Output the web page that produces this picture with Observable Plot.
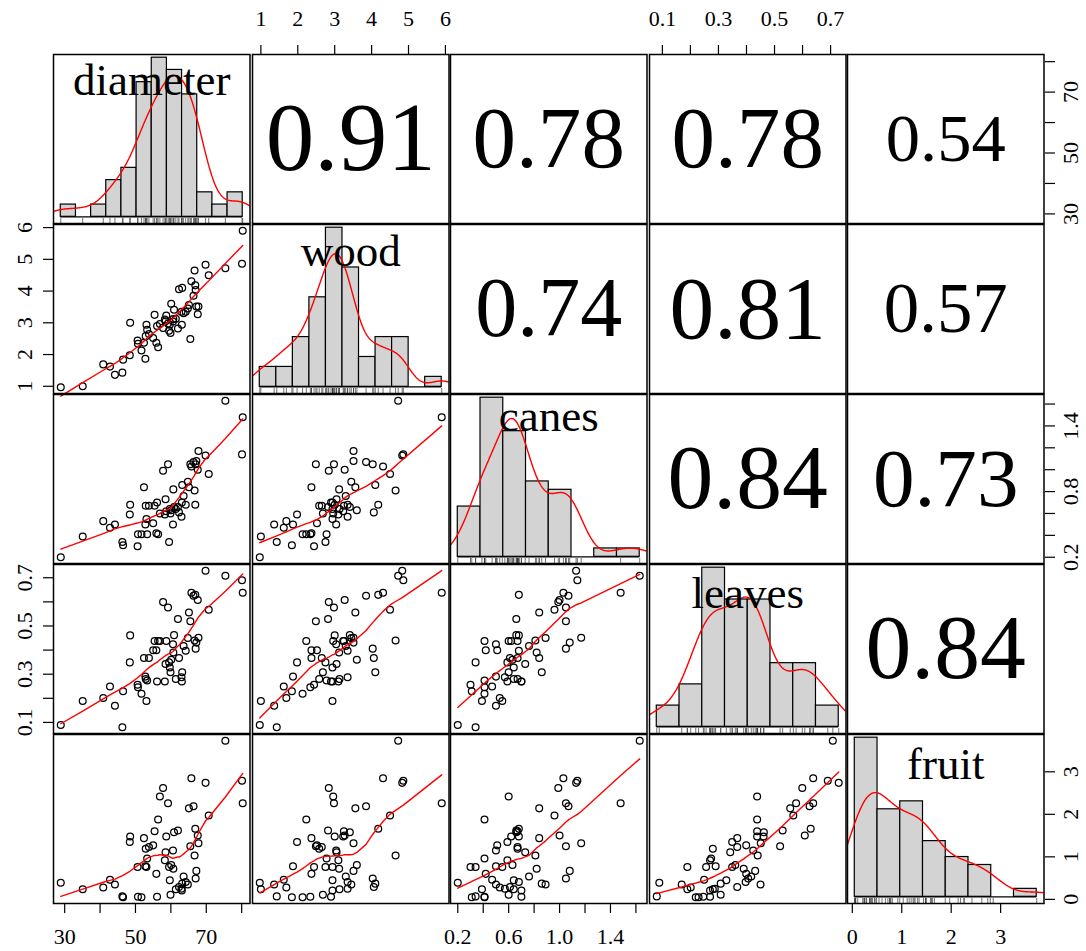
<!DOCTYPE html>
<html><head><meta charset="utf-8">
<script src="https://cdn.jsdelivr.net/npm/d3@7"></script>
<script src="https://cdn.jsdelivr.net/npm/@observablehq/plot@0.6"></script>
<style>
body{margin:0;background:#fff;}
#chart{position:relative;width:1086px;height:951px;background:#fff;overflow:hidden;}
</style></head><body><div id="chart"></div>
<script>
const variables = ["diameter", "wood", "canes", "leaves", "fruit"];
const diameter = [28.9,35.1,40.9,42.8,44.2,46.3,46.5,48.4,48.5,50.6,50.7,51.7,52.4,52.8,52.9,53.1,53.3,53.8,55.0,55.4,55.9,56.1,56.4,56.9,57.8,58.3,58.5,58.7,59.2,59.5,59.7,59.9,60.1,60.6,60.7,60.9,61.4,62.0,62.3,63.0,63.1,63.2,63.6,64.2,64.8,65.1,65.5,65.8,66.4,66.7,66.9,67.0,67.2,67.6,67.8,69.8,70.7,75.4,80.1,80.3];
const wood = [0.97,1.00,1.69,1.62,1.36,1.43,1.84,1.98,3.00,2.44,2.34,2.13,2.37,1.87,2.58,2.94,2.78,2.65,2.52,3.25,2.37,2.90,2.23,2.96,2.84,3.10,3.05,3.23,2.98,2.75,2.94,2.68,3.60,3.04,3.12,3.41,3.13,2.82,4.06,3.35,2.94,4.10,3.30,3.35,3.45,3.56,2.49,4.31,3.85,4.65,4.18,4.03,3.51,3.27,3.51,4.83,4.50,4.72,4.86,5.90];
const canes = [0.20,0.39,0.53,0.47,0.50,0.34,0.31,0.59,0.68,0.30,0.41,0.41,0.84,0.50,0.67,0.55,0.41,0.67,0.51,0.67,0.42,0.70,0.41,0.60,0.99,0.59,0.73,0.62,1.05,0.34,0.64,0.60,0.63,0.50,0.82,0.66,0.64,0.66,0.61,0.57,0.70,0.86,0.76,0.68,0.89,0.84,1.05,1.03,1.07,0.81,0.68,1.05,1.08,1.00,1.17,1.13,0.96,1.63,1.14,1.48];
const leaves = [0.089,0.189,0.201,0.249,0.169,0.080,0.229,0.349,0.461,0.256,0.246,0.219,0.367,0.290,0.280,0.189,0.274,0.367,0.399,0.438,0.399,0.270,0.438,0.438,0.599,0.270,0.342,0.438,0.577,0.349,0.328,0.308,0.360,0.424,0.390,0.462,0.280,0.529,0.367,0.287,0.270,0.308,0.417,0.397,0.450,0.556,0.520,0.638,0.625,0.440,0.629,0.406,0.431,0.608,0.451,0.729,0.567,0.708,0.690,0.638];
const fruit = [0.39,0.24,0.28,0.46,0.35,0.07,0.05,1.35,1.48,0.76,0.06,0.05,1.44,0.78,1.19,0.76,0.96,1.23,1.27,1.60,0.60,0.06,1.88,2.42,2.62,0.92,1.11,1.48,2.26,0.76,0.45,0.11,0.81,1.15,0.72,1.58,0.24,1.62,0.29,0.25,0.21,0.37,0.54,0.41,0.35,2.14,1.25,2.85,2.19,1.03,1.66,0.49,0.67,1.50,1.32,2.74,1.97,3.73,2.79,2.26];

// correlations shown in the upper panels (row-major upper triangle)
const correlations = [0.91, 0.78, 0.78, 0.54, 0.74, 0.81, 0.57, 0.84, 0.73, 0.84];

// histogram counts (equal-width bins from min to max)
const diameterHist = [1,0,1,3,4,11,13,12,10,2,1,2];
const woodHist = [2,2,5,9,16,12,3,5,5,0,1];
const canesHist = [6,19,15,9,8,0,1,1];
const leavesHist = [2,4,15,12,12,6,6,2];
const fruitHist = [20,11,12,7,5,4,0,1];

// axis ticks, labels on horizontal axes, labels on vertical axes
const diameterTicks = [30,40,50,60,70,80], diameterLabels = [30,50,70], diameterSideLabels = [30,50,70];
const woodTicks = [1,2,3,4,5,6], woodLabels = [1,2,3,4,5,6], woodSideLabels = [1,2,3,4,5,6];
const canesTicks = [0.2,0.4,0.6,0.8,1.0,1.2,1.4,1.6], canesLabels = [0.2,0.6,1.0,1.4], canesSideLabels = [0.2,0.8,1.4];
const leavesTicks = [0.1,0.2,0.3,0.4,0.5,0.6,0.7], leavesLabels = [0.1,0.3,0.5,0.7], leavesSideLabels = [0.1,0.3,0.5,0.7];
const fruitTicks = [0,1,2,3], fruitLabels = [0,1,2,3], fruitSideLabels = [0,1,2,3];

const series = {diameter, wood, canes, leaves, fruit};
const hists = {diameter: diameterHist, wood: woodHist, canes: canesHist, leaves: leavesHist, fruit: fruitHist};
const ticks = {
  diameter: [diameterTicks, diameterLabels, diameterSideLabels, d3.format("d")],
  wood: [woodTicks, woodLabels, woodSideLabels, d3.format("d")],
  canes: [canesTicks, canesLabels, canesSideLabels, d3.format(".1f")],
  leaves: [leavesTicks, leavesLabels, leavesSideLabels, d3.format(".1f")],
  fruit: [fruitTicks, fruitLabels, fruitSideLabels, d3.format("d")]};
const rows = diameter.map((_, i) => Object.fromEntries(variables.map(v => [v, series[v][i]])));

// ---------- layout ----------
const FONT = "'Liberation Serif', 'Times New Roman', Times, serif";
const colLeft = [53, 251.5, 450, 648.5, 847], W = 196.5;
const rowTop = [54, 224, 394, 564, 734], H = 169;
const chart = document.getElementById("chart");
function put(node, left, top) {
  node.style.position = "absolute"; node.style.left = left + "px"; node.style.top = top + "px";
  chart.appendChild(node);
}
const domains = {};
for (const v of variables) { const [a, b] = d3.extent(series[v]); const p = 0.04 * (b - a); domains[v] = [a - p, b + p]; }

// ---------- statistics derived from the data ----------
function kde(values) {
  const n = values.length, sd = d3.deviation(values);
  const iqr = d3.quantile(values, 0.75) - d3.quantile(values, 0.25);
  const h = 0.9 * Math.min(sd, iqr / 1.34) * Math.pow(n, -0.2);
  const [a, b] = d3.extent(values), lo = a - 3 * h, hi = b + 3 * h;
  return d3.range(512).map(i => {
    const x = lo + (hi - lo) * i / 511;
    return {x, y: d3.sum(values, v => Math.exp(-0.5 * ((x - v) / h) ** 2)) / (n * h * Math.sqrt(2 * Math.PI))};
  });
}
function lowess(xIn, yIn, f = 2 / 3, iter = 3) {
  const order = d3.range(xIn.length).sort((a, b) => xIn[a] - xIn[b]);
  const x = order.map(i => xIn[i]), y = order.map(i => yIn[i]);
  const n = x.length, range = x[n - 1] - x[0], delta = 0.01 * range;
  const ns = Math.max(2, Math.min(n, Math.floor(f * n + 1e-7)));
  const ys = new Array(n).fill(0), rw = new Array(n).fill(1), res = new Array(n).fill(0), w = new Array(n).fill(0);
  function lowest(xs, nleft, nright, userw) {
    const h = Math.max(xs - x[nleft], x[nright] - xs), h9 = 0.999 * h, h1 = 0.001 * h;
    let a = 0, j = nleft;
    while (j < n) {
      w[j] = 0;
      const r = Math.abs(x[j] - xs);
      if (r <= h9) {
        w[j] = r <= h1 ? 1 : Math.pow(1 - Math.pow(r / h, 3), 3);
        if (userw) w[j] *= rw[j];
        a += w[j];
      } else if (x[j] > xs) break;
      j++;
    }
    const nrt = j - 1;
    if (a <= 0) return null;
    for (j = nleft; j <= nrt; j++) w[j] /= a;
    if (h > 0) {
      a = 0;
      for (j = nleft; j <= nrt; j++) a += w[j] * x[j];
      let b = xs - a, c = 0;
      for (j = nleft; j <= nrt; j++) c += w[j] * (x[j] - a) * (x[j] - a);
      if (Math.sqrt(c) > 0.001 * range) { b /= c; for (j = nleft; j <= nrt; j++) w[j] *= (b * (x[j] - a) + 1); }
    }
    let yv = 0;
    for (j = nleft; j <= nrt; j++) yv += w[j] * y[j];
    return yv;
  }
  for (let it = 1; it <= iter + 1; it++) {
    let nleft = 0, nright = ns - 1, last = -1, i = 0;
    for (;;) {
      if (nright < n - 1) {
        const d1 = x[i] - x[nleft], d2 = x[nright + 1] - x[i];
        if (d1 > d2) { nleft++; nright++; continue; }
      }
      const v = lowest(x[i], nleft, nright, it > 1);
      ys[i] = v === null ? y[i] : v;
      if (last < i - 1) {
        const denom = x[i] - x[last];
        for (let j = last + 1; j < i; j++) { const al = (x[j] - x[last]) / denom; ys[j] = al * ys[i] + (1 - al) * ys[last]; }
      }
      last = i;
      const cut = x[last] + delta;
      for (i = last + 1; i < n; i++) {
        if (x[i] > cut) break;
        if (x[i] === x[last]) { ys[i] = ys[last]; last = i; }
      }
      i = Math.max(last + 1, i - 1);
      if (last >= n - 1) break;
    }
    for (let k = 0; k < n; k++) res[k] = y[k] - ys[k];
    if (it > iter) break;
    const absr = res.map(Math.abs), sc = d3.sum(absr) / n;
    const s = absr.slice().sort((a, b) => a - b), m = Math.floor(n / 2);
    const cmad = n % 2 === 0 ? 3 * (s[m - 1] + s[m]) : 6 * s[m];
    if (cmad < 1e-7 * sc) break;
    const c9 = 0.999 * cmad, c1 = 0.001 * cmad;
    for (let k = 0; k < n; k++) { const r = absr[k]; rw[k] = r <= c1 ? 1 : r <= c9 ? (1 - (r / cmad) ** 2) ** 2 : 0; }
  }
  return x.map((xv, k) => ({x: xv, y: ys[k]}));
}

const base = {width: W, height: H, margin: 0, style: {overflow: "visible", background: "transparent", fontFamily: FONT}};
const frame = Plot.frame({stroke: "black", strokeWidth: 1.5});

// ---------- panels ----------
const labelBaseline = {diameter: 40, wood: 41.5, canes: 36, leaves: 43, fruit: 44.5};
let ci = 0;
variables.forEach((rv, i) => {
  variables.forEach((cv, j) => {
    let svg;
    if (i === j) {
      const vals = series[cv], counts = hists[cv], k = counts.length, N = d3.sum(counts);
      const [mn, mx] = d3.extent(vals), bw = (mx - mn) / k;
      const bins = counts.map((c, t) => ({x1: mn + t * bw, x2: mn + (t + 1) * bw, y: c / (N * bw)}));
      const dens = kde(vals);
      const M = Math.max(d3.max(bins, d => d.y), d3.max(dens, d => d.y));
      svg = Plot.plot({...base,
        x: {domain: domains[cv], axis: null}, y: {domain: [-0.042 * M, 1.02 * M], axis: null},
        marks: [
          Plot.rect(bins, {x1: "x1", x2: "x2", y1: 0, y2: "y", fill: "#d3d3d3", stroke: "black", strokeWidth: 1.2}),
          Plot.ruleY([0], {x1: mn, x2: mx, stroke: "black", strokeWidth: 1.2}),
          Plot.line(dens, {x: "x", y: "y", stroke: "red", strokeWidth: 1.4, clip: true}),
          Plot.ruleX(vals, {x: d => d, insetTop: H - 5, stroke: "#333", strokeWidth: 0.7}),
          Plot.text([cv], {frameAnchor: "top", text: d => d, dy: labelBaseline[cv], lineAnchor: "bottom", fontSize: 45, fontFamily: FONT, fill: "black"}),
          frame
        ]});
    } else if (i > j) {
      svg = Plot.plot({...base,
        x: {domain: domains[cv], axis: null}, y: {domain: domains[rv], axis: null},
        marks: [
          Plot.dot(rows, {x: cv, y: rv, r: 3.4, stroke: "black", strokeWidth: 1.25, fill: "none"}),
          Plot.line(lowess(series[cv], series[rv]), {x: "x", y: "y", stroke: "red", strokeWidth: 1.4}),
          frame
        ]});
    } else {
      const r = correlations[ci++];
      svg = Plot.plot({...base,
        x: {domain: domains[cv], axis: null}, y: {domain: domains[rv], axis: null},
        marks: [
          Plot.text([r.toFixed(2)], {frameAnchor: "middle", text: d => d, fontSize: 27 + 77 * r, fontFamily: FONT, fill: "black", lineAnchor: "middle"}),
          frame
        ]});
    }
    put(svg, colLeft[j], rowTop[i]);
  });
});

// ---------- outer axes ----------
const AX_FS = 22, TICK = 10;
function fmtFor(v, side) { const [t, lab, sideLab, f] = ticks[v]; const L = side ? sideLab : lab; return d => L.includes(d) ? f(d) : ""; }
const axStyle = {overflow: "visible", background: "transparent", fontFamily: FONT};
[0, 2, 4].forEach(j => { // bottom
  const v = variables[j];
  put(Plot.plot({width: W, height: 48, marginTop: 0, marginBottom: 48, marginLeft: 0, marginRight: 0, style: axStyle,
    x: {domain: domains[v]},
    marks: [Plot.axisX({anchor: "bottom", ticks: ticks[v][0], tickFormat: fmtFor(v, false), tickSize: TICK, tickPadding: 15, fontSize: AX_FS, fontFamily: FONT, stroke: "black", strokeWidth: 1.2, fill: "black"})]
  }), colLeft[j], rowTop[4] + H);
});
[1, 3].forEach(j => { // top
  const v = variables[j];
  put(Plot.plot({width: W, height: rowTop[0], marginTop: rowTop[0], marginBottom: 0, marginLeft: 0, marginRight: 0, style: axStyle,
    x: {domain: domains[v]},
    marks: [Plot.axisX({anchor: "top", ticks: ticks[v][0], tickFormat: fmtFor(v, false), tickSize: TICK, tickPadding: 19, fontSize: AX_FS, fontFamily: FONT, stroke: "black", strokeWidth: 1.2, fill: "black"})]
  }), colLeft[j], 0);
});
[1, 3].forEach(i => { // left
  const v = variables[i];
  put(Plot.plot({width: colLeft[0], height: H, marginLeft: colLeft[0], marginRight: 0, marginTop: 0, marginBottom: 0, style: axStyle,
    y: {domain: domains[v]},
    marks: [Plot.axisY({anchor: "left", ticks: ticks[v][0], tickFormat: fmtFor(v, true), tickSize: TICK, tickPadding: 12, tickRotate: -90, lineAnchor: "bottom", fontSize: AX_FS, fontFamily: FONT, stroke: "black", strokeWidth: 1.2, fill: "black"})]
  }), 0, rowTop[i]);
});
[0, 2, 4].forEach(i => { // right
  const v = variables[i];
  const left = colLeft[4] + W;
  put(Plot.plot({width: 1086 - left, height: H, marginLeft: 0, marginRight: 1086 - left, marginTop: 0, marginBottom: 0, style: axStyle,
    y: {domain: domains[v]},
    marks: [Plot.axisY({anchor: "right", ticks: ticks[v][0], tickFormat: fmtFor(v, true), tickSize: TICK, tickPadding: 8, tickRotate: -90, lineAnchor: "top", fontSize: AX_FS, fontFamily: FONT, stroke: "black", strokeWidth: 1.2, fill: "black"})]
  }), left, rowTop[i]);
});
</script></body></html>
